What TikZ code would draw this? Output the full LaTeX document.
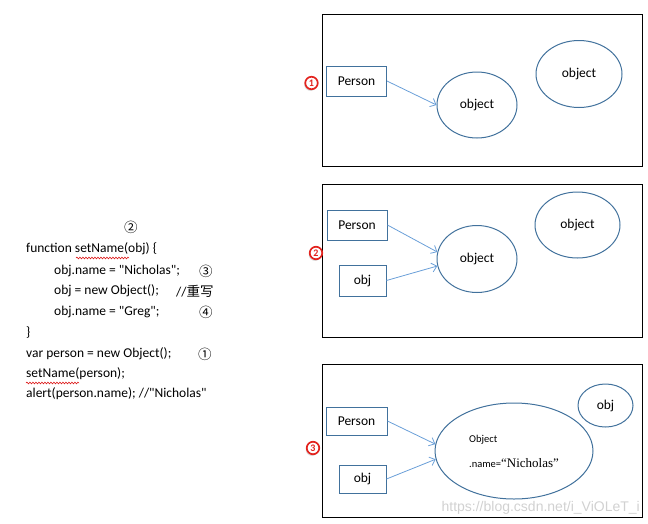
\documentclass[tikz,border=0pt]{standalone}
\usepackage{fontspec}
\setmainfont{Carlito}[Ligatures=TeXOff]
\newfontfamily\cjk{Noto Sans CJK SC}
\newfontfamily\timesfont{Liberation Serif}
\newfontfamily\wmfont{Liberation Sans}
\usetikzlibrary{shapes.geometric, arrows.meta, decorations.pathmorphing, shadows}

\definecolor{boxblue}{HTML}{41719C}
\definecolor{arrowblue}{HTML}{6A9FD8}
\definecolor{markred}{HTML}{E3231E}

\tikzset{
  frame/.style={draw=black, line width=0.9pt},
  varbox/.style={rectangle, draw=boxblue, line width=0.9pt, inner sep=0pt},
  objoval/.style={ellipse, draw=boxblue, line width=1pt, inner sep=0pt},
  link/.style={draw=arrowblue, line width=0.8pt, -{Straight Barb[length=5pt, width=9pt]}},
  marker/.style={circle, draw=markred, fill=white, line width=1.7pt, text=markred,
    inner sep=0pt, minimum size=12.5, font=\bfseries\fontsize{10}{10}\selectfont,
    drop shadow={shadow xshift=-1pt, shadow yshift=-1.6pt, fill=black!30}},
  codeline/.style={anchor=west, inner sep=0pt},
  squiggle/.style={draw=red!85!black, line width=0.5pt, decorate,
    decoration={snake, amplitude=0.9pt, segment length=3pt}}
}

\begin{document}
\begin{tikzpicture}[x=1pt, y=-1pt, font=\fontsize{13.5}{16}\selectfont]
    \useasboundingbox (0,0) rectangle (648,523);

    % 1. 左侧代码
    \node [codeline] (c2) at (124,227) {\cjk ②};
    \node [codeline] (l1) at (26,249) {function setName(obj) \{};
    \node [codeline] (l2) at (54,271) {obj.name = "Nicholas";};
    \node [codeline] (c3) at (199,271) {\cjk ③};
    \node [codeline] (l3) at (54,291) {obj = new Object();};
    \node [codeline] (l3c) at (176,291) {//{\cjk 重写}};
    \node [codeline] (l4) at (54,312) {obj.name = "Greg";};
    \node [codeline] (c4) at (199,312) {\cjk ④};
    \node [codeline] (l5) at (26,333) {\}};
    \node [codeline] (l6) at (26,354) {var person = new Object();};
    \node [codeline] (c1) at (198,354) {\cjk ①};
    \node [codeline] (l7) at (26,374) {setName(person);};
    \node [codeline] (l8) at (26,394) {alert(person.name); //"Nicholas"};
    \draw [squiggle] (76,258) -- (129,258);
    \draw [squiggle] (26,383) -- (79,383);

    % 2. 第一幅图:person 指向 object
    \draw [frame] (322,14) rectangle (642,166);
    \node [marker] (m1) at (311.5,83) {1};
    \node [varbox, minimum width=60, minimum height=30] (p1) at (356.5,81) {Person};
    \node [objoval, minimum width=80, minimum height=66] (o1) at (477,105) {object};
    \node [objoval, minimum width=86, minimum height=67] (q1) at (579,74) {object};
    \draw [link] (p1.east) -- (o1.west);

    % 3. 第二幅图:person 和 obj 指向同一个 object
    \draw [frame] (322,184) rectangle (642,337);
    \node [marker] (m2) at (316,253) {2};
    \node [varbox, minimum width=60, minimum height=30] (p2) at (357,225) {Person};
    \node [varbox, minimum width=47, minimum height=31] (v2) at (362.5,280.5) {obj};
    \node [objoval, minimum width=80, minimum height=67] (o2) at (477,259) {object};
    \node [objoval, minimum width=85, minimum height=66] (q2) at (577.5,225) {object};
    \draw [link] (p2.east) -- (o2.170);
    \draw [link] (v2.east) -- (o2.190);

    % 4. 第三幅图:name 被改写
    \draw [frame] (322,364) rectangle (642,517);
    \node [marker] (m3) at (313,448) {3};
    \node [varbox, minimum width=61, minimum height=28] (p3) at (356.5,421) {Person};
    \node [varbox, minimum width=47, minimum height=28] (v3) at (362.5,479) {obj};
    \node [objoval, minimum width=158, minimum height=96, align=left] (o3) at (514,451)
      {\fontsize{10.5}{12}\selectfont Object\\[9pt]
       \fontsize{10.5}{12}\selectfont .name=\fontsize{13}{14}\selectfont\timesfont “Nicholas”};
    \node [objoval, minimum width=55, minimum height=43] (q3) at (605.5,405.5) {obj};
    \draw [link] (p3.east) -- (o3.175);
    \draw [link] (v3.east) -- (o3.186);

    % 5. 水印
    \node [anchor=east, inner sep=0pt, text=black!18, font=\wmfont\fontsize{14}{14}\selectfont]
      (wm) at (640,508) {https://blog.csdn.net/i\_ViOLeT\_i};
\end{tikzpicture}
\end{document}
